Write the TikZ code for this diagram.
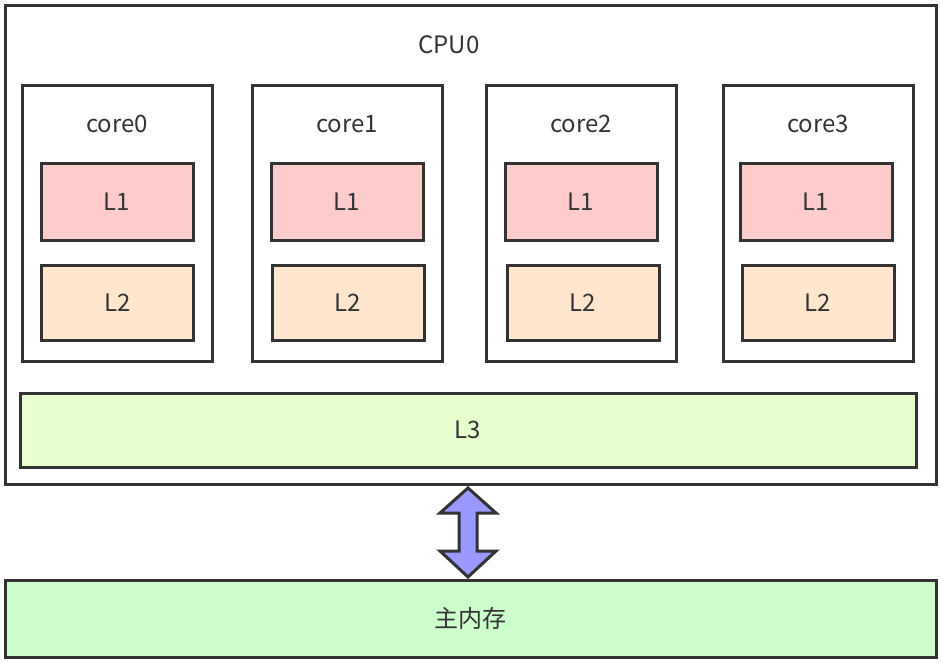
\documentclass[tikz,border=0pt]{standalone}
\usepackage{fontspec}
\setmainfont{Noto Sans CJK SC}
\definecolor{strokec}{HTML}{333333}
\definecolor{lonec}{HTML}{FFCCCC}
\definecolor{ltwoc}{HTML}{FFE6CC}
\definecolor{lthreec}{HTML}{E6FFCC}
\definecolor{memc}{HTML}{CCFFCC}
\definecolor{arrowc}{HTML}{9999FF}
\begin{document}
\begin{tikzpicture}[x=1pt,y=-1pt,
  box/.style={draw=strokec, line width=3pt, rectangle, inner sep=0pt, outer sep=0pt, font=\fontsize{24}{28}\selectfont, text=strokec},
  lbl/.style={font=\fontsize{24}{28}\selectfont, text=strokec, inner sep=0pt},
  corebox/.style={box, fill=white, minimum width=190pt, minimum height=275pt},
  lonebox/.style={box, fill=lonec, minimum width=152pt, minimum height=76pt},
  ltwobox/.style={box, fill=ltwoc, minimum width=152pt, minimum height=75pt}]
\useasboundingbox[fill=white] (0,0) rectangle (942,663);
\node[box, fill=white, minimum width=931pt, minimum height=478pt] (cpu) at (470.5,245) {};
\node[lbl] (cputxt) at (449,45) {CPU0};
\foreach \i/\cx/\lx/\mx in {0/117/117/117.5, 1/347/347/348, 2/581/581/583, 3/818/816/818} {
  \node[corebox] (core\i) at (\cx,223.5) {};
  \node[lbl] (coretxt\i) at (\cx,124) {core\i};
  \node[lonebox] (lone\i) at (\lx,202) {L1};
  \node[ltwobox] (ltwo\i) at (\mx,302.5) {L2};
}
\node[box, fill=lthreec, minimum width=896pt, minimum height=74pt] (lthree) at (468,430) {L3};
\node[box, fill=memc, minimum width=931pt, minimum height=77pt] (mem) at (470.5,618.5) {主内存};
\draw[draw=strokec, fill=arrowc, line width=3pt, line join=miter]
  (468,488) -- (496,513) -- (477,513) -- (477,551) -- (496,551) -- (468,577)
  -- (440,551) -- (459,551) -- (459,513) -- (440,513) -- cycle;
\end{tikzpicture}
\end{document}
